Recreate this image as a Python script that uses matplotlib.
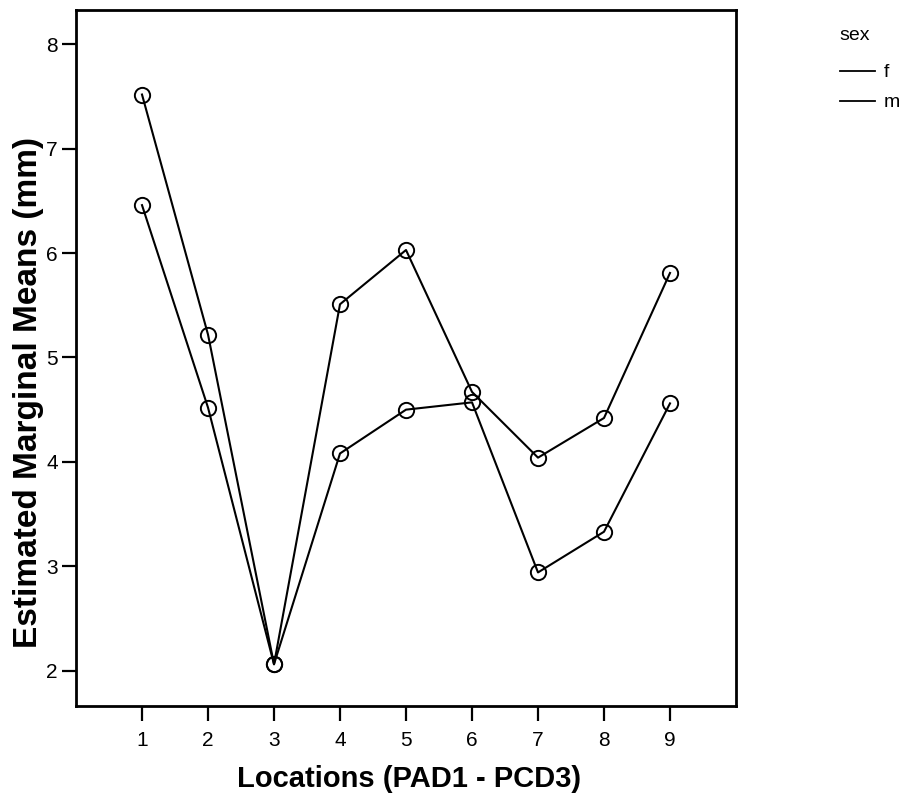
import matplotlib
matplotlib.use("Agg")
import matplotlib.pyplot as plt
from matplotlib.lines import Line2D

plt.rcParams['font.family'] = ['Liberation Sans', 'DejaVu Sans']

locations = [1, 2, 3, 4, 5, 6, 7, 8, 9]
f_means = [7.52, 5.22, 2.06, 5.51, 6.03, 4.67, 4.04, 4.42, 5.81]
m_means = [6.46, 4.52, 2.06, 4.08, 4.50, 4.57, 2.94, 3.33, 4.56]
y_ticks = [2, 3, 4, 5, 6, 7, 8]
series_names = ['f', 'm']
legend_title = 'sex'
x_title = 'Locations (PAD1 - PCD3)'
y_title = 'Estimated Marginal Means (mm)'

W, H = 905, 798
fig = plt.figure(figsize=(W / 100, H / 100), dpi=100)
L, R, T, B = 76, 736, 10, 706
ax = fig.add_axes([L / W, 1 - B / H, (R - L) / W, (B - T) / H])

for vals in (f_means, m_means):
    ax.plot(locations, vals, color='black', linewidth=1.5,
            marker='o', markersize=11, markerfacecolor='none',
            markeredgecolor='black', markeredgewidth=1.4)

ax.set_xlim(0, 10)
ax.set_ylim(1.66, 8.33)
ax.set_xticks(locations)
ax.set_xticklabels([str(v) for v in locations])
ax.set_yticks(y_ticks)
ax.set_yticklabels([str(v) for v in y_ticks])

for s in ax.spines.values():
    s.set_linewidth(2.0)
    s.set_color('black')

ax.tick_params(axis='y', direction='out', length=10, width=1.6, labelsize=15, pad=3)
ax.tick_params(axis='x', direction='out', length=11, width=1.6, labelsize=15, pad=7)

fig.text(409 / W, 1 - 787 / H, x_title, ha='center', va='baseline',
         fontsize=21, fontweight='bold')
fig.text(29 / W, 1 - 392 / H, y_title, ha='center', va='center',
         rotation=90, fontsize=24, fontweight='bold')

# legend
fig.text(855 / W, 1 - 40 / H, legend_title, ha='center', va='baseline', fontsize=14)
for name, yy in zip(series_names, (71, 101)):
    fig.add_artist(Line2D([840 / W, 875 / W], [1 - yy / H, 1 - yy / H],
                          color='black', linewidth=1.3, transform=fig.transFigure))
    fig.text(884 / W, 1 - (yy + 6) / H, name, ha='left', va='baseline', fontsize=14)

fig.savefig('out.png', dpi=100)
